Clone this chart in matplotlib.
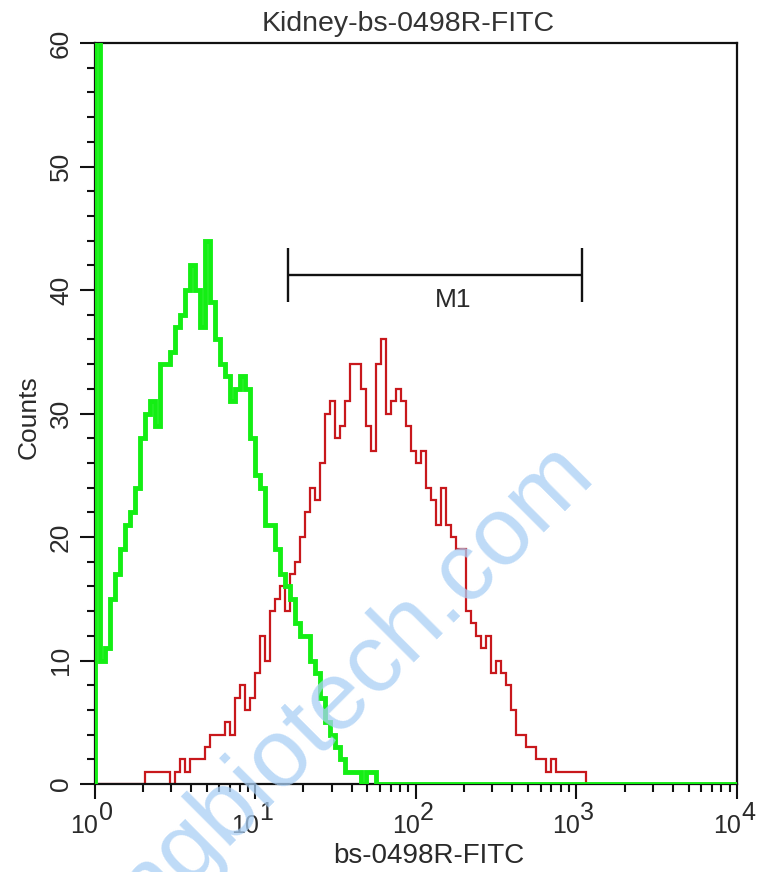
import numpy as np
import matplotlib
matplotlib.use("Agg")
import matplotlib.pyplot as plt
import matplotlib.transforms as mtransforms
from matplotlib.ticker import LogLocator, MultipleLocator, FixedLocator, NullFormatter

plt.rcParams['font.family'] = ['Liberation Sans', 'DejaVu Sans']

# ---- data (counts per channel, 32 channels per decade, 10^0 .. 10^4) ----
n_channels = 128
channels_per_decade = 32

control_counts = [
    80, 10, 11, 15, 17, 19, 21, 22, 24, 28, 30, 31, 29, 34, 34, 35,
    37, 38, 40, 42, 40, 37, 44, 39, 36, 34, 33, 31, 32, 33, 32, 28,
    25, 24, 21, 21, 19, 17, 16, 15, 13, 12, 12, 10, 9, 7, 5, 4,
    3, 2, 1, 1, 1, 0, 1, 1,
]

sample_counts = [
    0, 0, 0, 0, 0, 0, 0, 0, 0, 0, 1, 1, 1, 1, 1, 0,
    1, 2, 1, 2, 2, 2, 3, 4, 4, 4, 5, 4, 7, 8, 6, 7,
    9, 12, 10, 14, 15, 16, 14, 17, 18, 20, 22, 24, 23, 26, 30, 31,
    28, 29, 31, 34, 34, 32, 29, 27, 34, 36, 30, 31, 32, 31, 29, 27,
    26, 27, 24, 23, 21, 24, 21, 20, 19, 19, 14, 13, 12, 11, 12, 9,
    10, 9, 8, 6, 4, 4, 3, 3, 2, 2, 1, 2, 1, 1, 1, 1,
    1, 1,
]

x_decades = [0, 1, 2, 3, 4]
marker_range = [16, 1090]
marker_y = 41.2
marker_label_x = 171
marker_label = "M1"

title_text = "Kidney-bs-0498R-FITC"
xlabel_text = "bs-0498R-FITC"
ylabel_text = "Counts"
watermark_text = "ngbiotech.com"

# ---- build ----
edges = 10.0 ** (np.arange(n_channels + 1) / channels_per_decade)
control = np.zeros(n_channels)
control[:len(control_counts)] = control_counts
sample = np.zeros(n_channels)
sample[:len(sample_counts)] = sample_counts

W, H = 758, 872
fig = plt.figure(figsize=(W / 100, H / 100), dpi=100)
L, R, T, B = 94.5, 737, 43, 784
ax = fig.add_axes([L / W, 1 - B / H, (R - L) / W, (B - T) / H])

ax.stairs(sample, edges, color='#c8181c', lw=1.6, baseline=0, zorder=2)
ax.stairs(control, edges, color='#14ee14', lw=3.5, baseline=0, zorder=3)

ax.set_xscale('log')
ax.set_xlim(1, 1e4)
ax.set_ylim(0, 60)

ax.xaxis.set_major_locator(FixedLocator([10.0 ** k for k in x_decades]))
ax.xaxis.set_minor_locator(LogLocator(base=10, subs=np.arange(2, 10), numticks=20))
ax.xaxis.set_major_formatter(NullFormatter())
ax.xaxis.set_minor_formatter(NullFormatter())
ax.yaxis.set_major_locator(MultipleLocator(10))
ax.yaxis.set_minor_locator(MultipleLocator(2))

tick_col = '#111111'
ax.tick_params(axis='both', which='major', direction='out', length=10.5, width=1.5,
               color=tick_col, labelcolor='#2a2a2a')
ax.tick_params(axis='both', which='minor', direction='out', length=5.8, width=1.5,
               color=tick_col)
ax.tick_params(axis='y', which='major', pad=5, labelrotation=90, labelsize=19)
for lab in ax.get_yticklabels():
    lab.set_va('center')

# x tick labels: "10" with a full-size raised exponent
base_tr = mtransforms.blended_transform_factory(ax.transData, ax.transAxes)
tr_base = mtransforms.offset_copy(base_tr, fig=fig, x=4, y=-49, units='dots')
tr_exp = mtransforms.offset_copy(base_tr, fig=fig, x=4, y=-36, units='dots')
for k in x_decades:
    ax.text(10.0 ** k, 0, "10", transform=tr_base, ha='right', va='baseline',
            fontsize=18, color='#2a2a2a', clip_on=False)
    ax.text(10.0 ** k, 0, str(k), transform=tr_exp, ha='left', va='baseline',
            fontsize=18, color='#2a2a2a', clip_on=False)

for s in ax.spines.values():
    s.set_linewidth(1.6)
    s.set_color('#111111')

# marker bar
ax.plot(marker_range, [marker_y, marker_y], color='#111111', lw=1.7, solid_capstyle='butt', zorder=4)
for xm in marker_range:
    ax.plot([xm, xm], [marker_y - 2.2, marker_y + 2.2], color='#111111', lw=1.7,
            solid_capstyle='butt', zorder=4)
ax.text(marker_label_x, marker_y - 1.0, marker_label,
        ha='center', va='top', fontsize=19, color='#2a2a2a')

ax.set_title(title_text, fontsize=20.5, color='#333333', pad=9, x=0.488)
ax.set_xlabel(xlabel_text, fontsize=20, color='#2a2a2a')
ax.xaxis.set_label_coords(0.52, -0.079)
ax.xaxis.label.set_va('top')
ax.set_ylabel(ylabel_text, fontsize=19, color='#2a2a2a')
ax.yaxis.set_label_coords(-0.102, 0.495)
ax.yaxis.label.set_va('center')

# watermark
fig.text(148 / W, 1 - 922 / H, watermark_text, rotation=45, rotation_mode='anchor',
         ha='left', va='baseline', fontsize=70, color='#a9cff5', alpha=0.75, zorder=10)

fig.savefig('out.png', dpi=100)
